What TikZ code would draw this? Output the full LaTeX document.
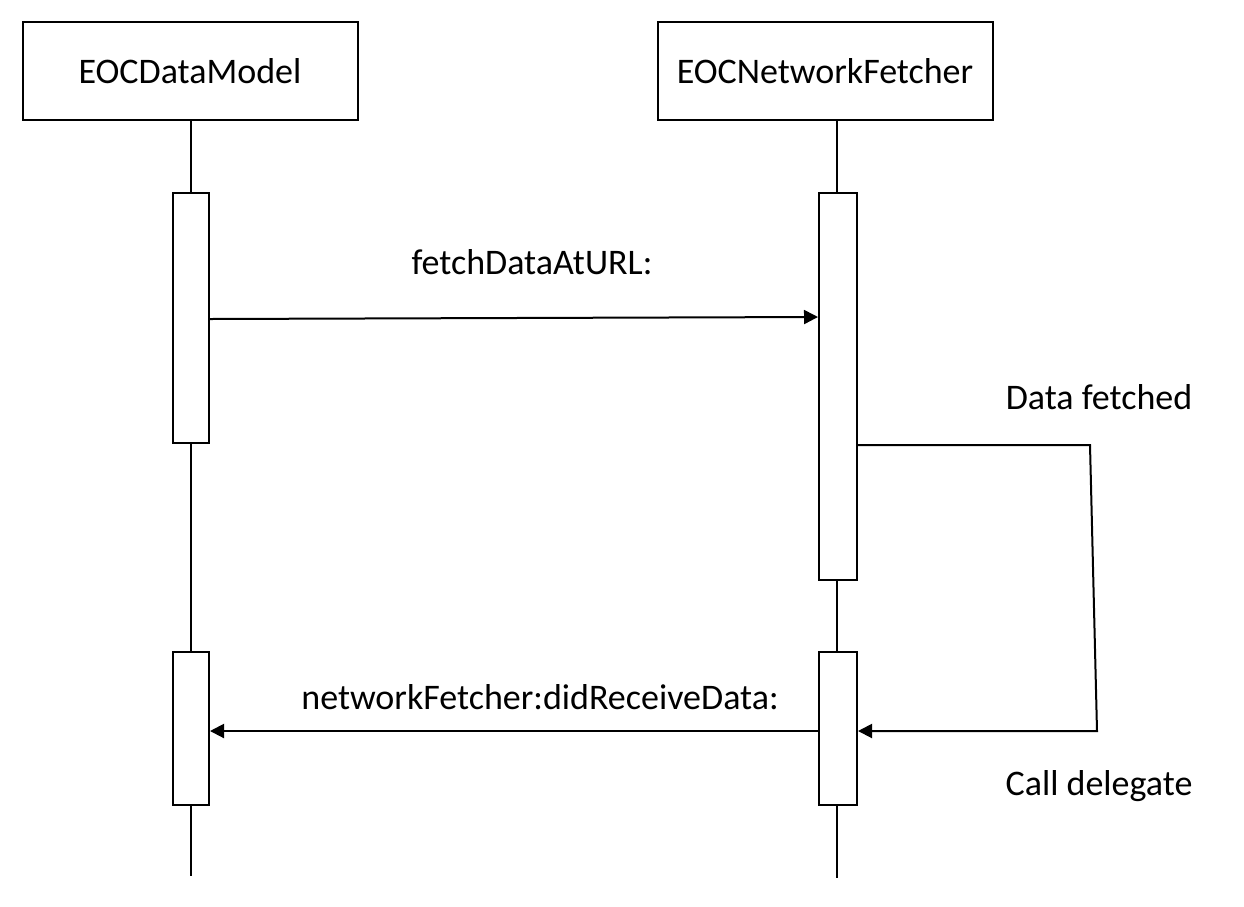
\documentclass[tikz,border=0pt]{standalone}
\usepackage{fontspec}
\setmainfont{Carlito}
\usetikzlibrary{arrows.meta}
\begin{document}
\begin{tikzpicture}[x=1pt,y=-1pt,line width=2pt,
  obj/.style={draw,rectangle,minimum width=335pt,minimum height=98pt,inner sep=0pt,font=\fontsize{36}{42}\selectfont},
  act/.style={draw,fill=white,rectangle,minimum width=36pt,inner sep=0pt},
  lbl/.style={font=\fontsize{36}{42}\selectfont,inner sep=0pt},
  msg/.style={-{Triangle[length=14pt,width=14pt]}}]
\useasboundingbox (0,0) rectangle (1244,906);
\node[obj] (m) at (190,71) {EOCDataModel};
\node[obj] (f) at (825,71) {EOCNetworkFetcher};
\coordinate (mend) at (191,876);
\coordinate (fend) at (837,878);
\draw (191,120) -- (mend);
\draw (837,120) -- (fend);
\node[act,minimum height=250pt] (m1) at (191,318) {};
\node[act,minimum height=387pt,minimum width=38pt] (f1) at (838,386.5) {};
\node[act,minimum height=153pt] (m2) at (191,728.5) {};
\node[act,minimum height=153pt,minimum width=38pt] (f2) at (838,728.5) {};
\draw[msg] (m1.east |- 0,319) -- (f1.west |- 0,317);
\node[lbl] (l1) at (532,262) {fetchDataAtURL:};
\coordinate (c1) at (1090,445);
\coordinate (c2) at (1097,731);
\draw[msg] (f1.east |- 0,445) -- (c1) -- (c2) -- (f2.east |- 0,731);
\node[lbl] (l2) at (1099,397) {Data fetched};
\draw[msg] (f2.west |- 0,731) -- (m2.east |- 0,731);
\node[lbl] (l3) at (540,697) {networkFetcher:didReceiveData:};
\node[lbl] (l4) at (1099,786) {Call delegate};
\end{tikzpicture}
\end{document}
